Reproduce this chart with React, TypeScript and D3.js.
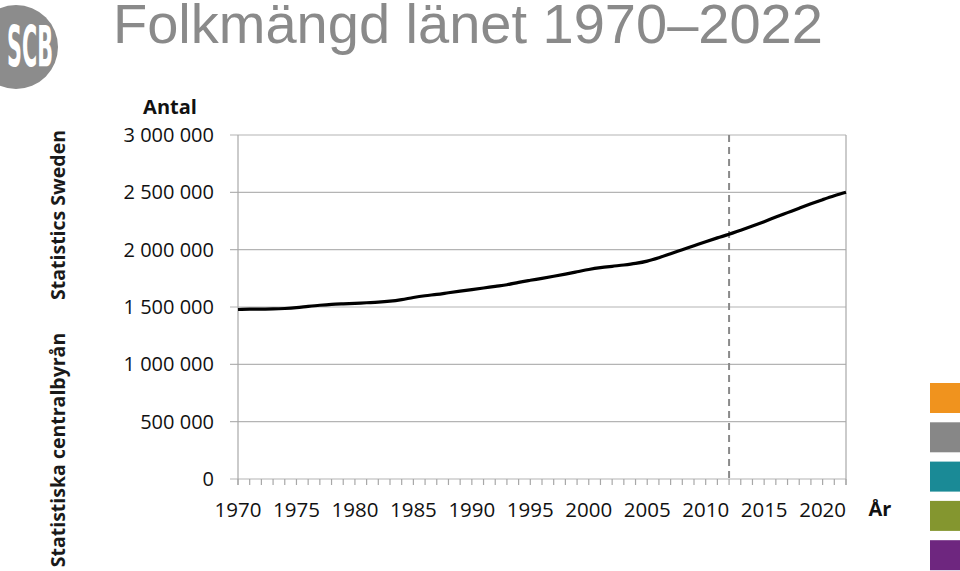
import React from "react";
import * as d3 from "d3";

const years: number[] = d3.range(1970, 2023);
const population: number[] = [
  1478000, 1481000, 1482000, 1483000, 1487000, 1494000, 1505000, 1515000, 1523000, 1528000,
  1532000, 1537000, 1542000, 1551000, 1565000, 1583000, 1598000, 1610000, 1624000, 1638000,
  1652000, 1666000, 1680000, 1694000, 1715000, 1733000, 1750000, 1768000, 1787000, 1807000,
  1827000, 1843000, 1855000, 1866000, 1880000, 1900000, 1930000, 1965000, 2000000, 2035000,
  2070000, 2103000, 2134000, 2170000, 2206000, 2244000, 2284000, 2323000, 2362000, 2400000,
  2436000, 2470000, 2500000,
];
const yTicks: number[] = [0, 500000, 1000000, 1500000, 2000000, 2500000, 3000000];
const xLabelYears: number[] = [1970, 1975, 1980, 1985, 1990, 1995, 2000, 2005, 2010, 2015, 2020];
const markerYear = 2012;
const sideColors: string[] = ["#F0931E", "#878787", "#1A8A96", "#84962F", "#6E267F"];

const W = 960;
const H = 571;
const left = 238;
const right = 846;
const top = 135;
const bottom = 479;

const fmt = (v: number) => d3.format(",")(v).replace(/,/g, " ");

export default function App() {
  const x = d3.scaleLinear().domain([1970, 2022]).range([left, right]);
  const y = d3.scaleLinear().domain([0, 3000000]).range([bottom, top]);
  const line = d3
    .line<number>()
    .x((_, i) => x(years[i]))
    .y((d) => y(d))
    .curve(d3.curveCatmullRom);
  const labelFont = "'Open Sans', 'Noto Sans', sans-serif";

  return (
    <svg
      width={W}
      height={H}
      style={{ position: "absolute", left: 0, top: 0, background: "#fff" }}
    >
      {/* logo */}
      <circle cx={16} cy={47} r={42} fill="#8c8c8c" />
      <text
        x={30}
        y={67}
        fill="#fff"
        fontFamily="'DejaVu Sans Condensed', 'DejaVu Sans', sans-serif"
        fontWeight="bold"
        fontSize={57}
        textAnchor="middle"
        textLength={46}
        lengthAdjust="spacingAndGlyphs"
      >
        SCB
      </text>

      {/* title */}
      <text
        x={113}
        y={43}
        fill="#8a8a8a"
        fontFamily="'Liberation Sans', Arial, sans-serif"
        fontSize={56}
      >
        Folkmängd länet 1970–2022
      </text>

      {/* vertical side texts */}
      <g fontFamily={labelFont} fontWeight="bold" fontSize={19.5} fill="#1a1a1a">
        <text transform="translate(65,215) rotate(-90)" textAnchor="middle">
          Statistics Sweden
        </text>
        <text transform="translate(65,450) rotate(-90)" textAnchor="middle">
          Statistiska centralbyrån
        </text>
      </g>

      {/* gridlines */}
      {yTicks.map((t) => (
        <line
          key={t}
          x1={left - 8}
          x2={right}
          y1={y(t)}
          y2={y(t)}
          stroke="#b4b4b4"
          strokeWidth={1.2}
        />
      ))}
      {/* axes */}
      <line x1={left} x2={left} y1={top} y2={bottom + 6} stroke="#a8a8a8" strokeWidth={1.2} />
      <line x1={right} x2={right} y1={top} y2={bottom + 6} stroke="#a8a8a8" strokeWidth={1.2} />
      {years.map((yr) => (
        <line
          key={yr}
          x1={x(yr)}
          x2={x(yr)}
          y1={bottom}
          y2={bottom + 6}
          stroke="#a8a8a8"
          strokeWidth={1.2}
        />
      ))}

      {/* y labels */}
      <g fontFamily={labelFont} fontSize={20} fill="#111" textAnchor="end">
        {yTicks.map((t) => (
          <text key={t} x={214} y={y(t) + 7}>
            {fmt(t)}
          </text>
        ))}
      </g>
      <text
        x={170}
        y={114}
        fontFamily={labelFont}
        fontWeight="bold"
        fontSize={20}
        textAnchor="middle"
        fill="#111"
      >
        Antal
      </text>

      {/* x labels */}
      <g fontFamily={labelFont} fontSize={20.5} fill="#111" textAnchor="middle">
        {xLabelYears.map((yr) => (
          <text key={yr} x={x(yr)} y={517}>
            {yr}
          </text>
        ))}
      </g>
      <text
        x={880}
        y={516}
        fontFamily={labelFont}
        fontWeight="bold"
        fontSize={20}
        textAnchor="middle"
        fill="#111"
      >
        År
      </text>

      {/* marker dashed */}
      <line
        x1={x(markerYear)}
        x2={x(markerYear)}
        y1={top}
        y2={bottom}
        stroke="#8a8a8a"
        strokeWidth={2}
        strokeDasharray="7,5"
      />

      {/* data line */}
      <path d={line(population) || ""} fill="none" stroke="#000" strokeWidth={3.2} />

      {/* side colour squares */}
      {sideColors.map((c, i) => (
        <rect key={c} x={930} y={383 + i * 39.3} width={30} height={30} fill={c} />
      ))}
    </svg>
  );
}
